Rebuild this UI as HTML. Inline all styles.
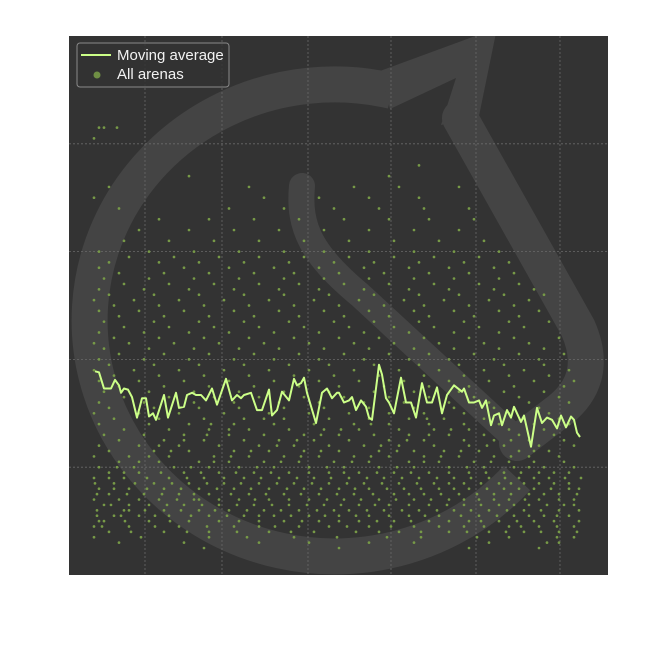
<!DOCTYPE html>
<html><head><meta charset="utf-8"><style>
html,body{margin:0;padding:0;background:#fff;}
svg{display:block;font-family:"Liberation Sans",sans-serif;}
</style></head><body>
<svg id="chart" width="650" height="650" viewBox="0 0 650 650" xmlns="http://www.w3.org/2000/svg">
<defs><clipPath id="pc"><rect x="69" y="36" width="539" height="539"/></clipPath></defs>
<rect x="69" y="36" width="539" height="539" fill="#333333"/>
<g clip-path="url(#pc)" fill="none" stroke="#444444" stroke-linecap="round" stroke-linejoin="round">
<path d="M517,478 A245,236 0 1 1 392,91" stroke-width="36" stroke-linecap="butt"/>
<polygon points="380,71 497,28 479,116 441,125 456,78 390,109" fill="#444444" stroke="none"/>
<path d="M460,118 L578,328 Q600,378 560,410 L517,443" stroke-width="36"/>
<path d="M302,186 C298,228 312,255 360,295 L517,440" stroke-width="26"/>
</g>
<g id="grid"></g>
<g id="scatter" clip-path="url(#pc)"></g>
<g id="line"></g>
<g>
<rect x="77" y="43" width="152" height="44" rx="3" fill="#333" fill-opacity="0.85" stroke="#8a8a8a" stroke-width="1"/>
<line x1="81" y1="55" x2="111" y2="55" stroke="#ccff88" stroke-width="2"/>
<text x="117" y="60" font-size="15" fill="#f2f2f2">Moving average</text>
<circle cx="97" cy="75" r="3.5" fill="#6f8f44"/>
<text x="117" y="79" font-size="15" fill="#f2f2f2">All arenas</text>
</g>
</svg>
<script>
const gridX = [76, 153, 239, 322, 407, 491];
const gridY = [10, 20, 30, 40];
const lineX = [26,30,35,42,46,50,52,55,59,63,68,73,77,80,84,87,95,99,107,110,115,118,123,127,132,137,143,148,157,163,168,172,175,182,188,193,200,203,208,213,220,225,228,232,235,238,247,253,258,263,268,
270,275,280,283,287,292,297,300,303,310,313,317,320,325,332,337,342,347,353,358,363,368,373,378,385,393,395,400,405,410,413,417,422,425,430,433,438,442,445,452,455,462,468,473,478,483,488,492,497,502,505,508,511];
const lineY = [18.9,18.8,17.3,17.3,18.1,17.6,16.9,17.3,17.2,16.5,14.6,16.4,16.4,14.7,15.0,14.4,16.7,14.6,16.9,15.5,15.6,16.7,16.9,16.7,16.7,16.2,17.3,15.8,18.2,16.2,16.7,16.4,16.7,16.9,15.3,15.3,17.2,14.8,15.3,17.0,16.2,18.2,17.6,17.8,18.3,16.9,14.1,16.9,17.3,16.4,16.9,
16.9,16.0,16.2,16.5,15.3,16.2,15.6,14.6,14.4,19.5,18.6,16.4,16.0,15.0,18.3,16.0,16.0,14.6,17.8,16.0,16.0,17.4,15.0,16.7,17.6,17.0,17.3,16.0,16.0,16.2,15.5,16.2,13.9,14.8,15.0,13.9,15.3,14.6,15.6,14.2,14.8,11.9,15.5,14.1,14.6,14.4,13.6,14.8,13.7,14.7,14.4,13.2,12.8];
const scatterY = [2.5,3,3.5,4,4.5,5,5.5,6,6.5,7,7.5,8,8.5,9,9.5,10,10.5,11,11.5,12,12.5,13,13.5,14,14.5,15,15.5,16,16.5,17,17.5,18,18.5,19,19.5,20,20.5,21,21.5,22,22.5,23,23.5,24,24.5,25,25.5,26,26.5,27,27.5,28,28.5,29,29.5,30,31,32,33,34,35,36,37,38,40.5,41.5];
const scatterX = [
[135,270,400,470],
[50,115,190,240,300,345,420,478,490],
[25,72,140,178,225,268,318,352,408,440,488,505],
[40,95,140,200,245,310,330,380,420,455,490, 62,118,168,222,287,352,398,437,472,508],
[25,60,110,165,230,260,300,345,395,440,470,505, 33,86,138,190,206,278,322,370,415,452,488],
[30,35,80,120,150,190,215,250,290,325,360,400,430,465,485,510, 56,101,170,233,270,308,342,380,412,448],
[45,70,100,140,175,205,240,270,300,340,370,410,445,475,500, 28,52,86,122,158,190,222,256,287,320,356,392,428,460,488],
[28,55,60,95,130,160,195,230,265,280,315,350,385,420,455,490,510, 76,112,146,178,212,248,298,333,368,402,438,472],
[35,80,115,150,185,220,255,290,320,360,395,430,460,495, 42,60,98,133,168,203,238,272,306,340,378,412,445,478,505],
[25,50,90,125,130,170,200,240,275,310,345,380,410,440,470,505, 70,108,150,186,220,258,292,327,362,395,425,456,490],
[40,75,110,140,180,215,250,285,325,355,390,425,460,490, 28,58,93,125,162,197,232,268,304,340,372,408,442,475,508],
[30,60,95,130,165,200,235,270,300,335,370,400,435,465,500,510, 45,78,112,148,182,218,252,286,318,352,385,418,450,482],
[45,85,120,155,190,225,260,295,330,365,395,430,455,485, 26,66,103,138,172,208,243,278,313,348,380,412,442,470,500],
[25,55,100,135,175,210,245,280,315,350,385,420,450,480,512, 40,78,118,155,192,228,262,298,333,368,402,436,465,496],
[40,70,115,150,185,220,260,290,325,360,400,435,470,500, 55,92,132,167,202,240,275,308,342,380,417,452,485],
[30,65,105,140,170,205,240,275,310,345,380,415,445,475,505, 48,122,188,258,328,398,460],
[50,90,130,160,195,230,265,300,340,370,405,440,465,495, 70,145,212,283,355,422],
[25,60,100,145,180,215,250,285,320,355,390,425,460,490, 80,162,232,302,372,442],
[40,85,120,165,200,235,270,310,345,375,410,450,480, 102,182,252,328,392,465],
[30,70,110,150,190,225,260,295,330,365,400,435,470,505, 90,208,312,418],
[50,95,135,175,210,245,280,320,355,395,425,460,495, 115,228,338,442],
[35,75,115,160,195,235,270,305,340,380,415,450,485, 138,252,360],
[55,100,140,180,220,255,290,330,365,400,440,475, 160,272,382],
[30,80,120,165,205,245,285,320,360,395,430,465,500, 142,302],
[45,90,135,175,215,260,300,340,375,415,455,490, 195,358],
[25,70,110,155,200,240,280,320,355,395,440,480],
[40,85,130,170,215,255,300,345,385,425,470],
[30,75,125,165,210,250,295,335,380,420,460,500],
[55,100,145,190,235,275,320,360,405,450,490],
[35,80,125,170,215,260,305,345,390,435,475],
[50,95,140,185,230,270,315,360,400,445,495],
[30,70,115,160,205,250,290,335,380,420,465,505],
[45,90,135,180,225,265,310,355,395,440,480],
[25,65,110,155,200,240,285,330,370,415,455,500],
[40,85,130,175,220,260,305,350,390,435,475],
[30,75,120,165,205,250,295,340,380,425,470],
[50,95,140,185,230,275,320,360,405,450,495],
[35,80,125,170,210,255,300,345,385,430,475],
[25,60,105,150,195,240,285,325,370,415,460],
[45,90,135,180,225,270,310,355,400,445,490],
[30,75,120,160,205,250,295,340,385,430],
[55,100,145,190,235,280,325,365,410,455],
[35,85,130,175,220,265,305,350,395,440,480],
[50,95,140,185,230,275,320,360,405,450],
[30,70,115,165,210,255,300,345,385,430,470],
[45,90,135,180,225,270,315,355,400,445],
[25,65,110,155,200,245,290,335,375,420,460],
[40,85,130,175,215,260,305,350,390,435,475],
[30,75,120,165,210,250,295,340,380,425,465],
[55,100,145,190,230,275,320,365,410,450],
[35,80,125,170,215,255,300,345,385,430],
[50,95,140,185,225,270,315,360,400,445],
[30,115,160,205,250,295,340,380,425],
[40,90,130,175,220,265,305,350,395,440],
[60,105,150,190,235,280,325,365,410],
[30,80,125,170,215,255,300,345,385,430],
[55,100,145,190,235,280,325,370,415],
[70,120,165,210,255,300,345,390],
[90,140,185,230,275,320,360,405],
[50,160,215,265,310,355,400],
[25,195,250,300,350],
[40,180,285,330,390],
[120,320],
[350],
[25],
[30,35,48]
];
const NS='http://www.w3.org/2000/svg';
const X0=69, W=539, Y0=575, H=539;
function sx(v){return X0 + v/539*W;}
function sy(v){return Y0 - v/50*H;}
const grid=document.getElementById('grid');
gridX.forEach(v=>{const l=document.createElementNS(NS,'line');


l.setAttribute('x1',sx(v));l.setAttribute('x2',sx(v));l.setAttribute('y1',36);l.setAttribute('y2',575);
l.setAttribute('stroke','#6a6a6a');l.setAttribute('stroke-width','0.8');l.setAttribute('stroke-dasharray','2,2');grid.appendChild(l);});
gridY.forEach(v=>{const l=document.createElementNS(NS,'line');


l.setAttribute('y1',sy(v));l.setAttribute('y2',sy(v));l.setAttribute('x1',69);l.setAttribute('x2',608);
l.setAttribute('stroke','#6a6a6a');l.setAttribute('stroke-width','0.8');l.setAttribute('stroke-dasharray','2,2');grid.appendChild(l);});
const sc=document.getElementById('scatter');
scatterY.forEach((yv,i)=>{scatterX[i].forEach(xv=>{const c=document.createElementNS(NS,'circle');


c.setAttribute('cx',sx(xv));c.setAttribute('cy',sy(yv));c.setAttribute('r','1.35');c.setAttribute('fill','#779a47');sc.appendChild(c);});});
const lg=document.getElementById('line');
const p=document.createElementNS(NS,'path');


p.setAttribute('d',lineX.map((x,i)=>(i?'L':'M')+sx(x).toFixed(1)+','+sy(lineY[i]).toFixed(1)).join(' '));
p.setAttribute('fill','none');p.setAttribute('stroke','#ccff88');p.setAttribute('stroke-width','2');p.setAttribute('stroke-linejoin','round');
lg.appendChild(p);
</script>
</body></html>
